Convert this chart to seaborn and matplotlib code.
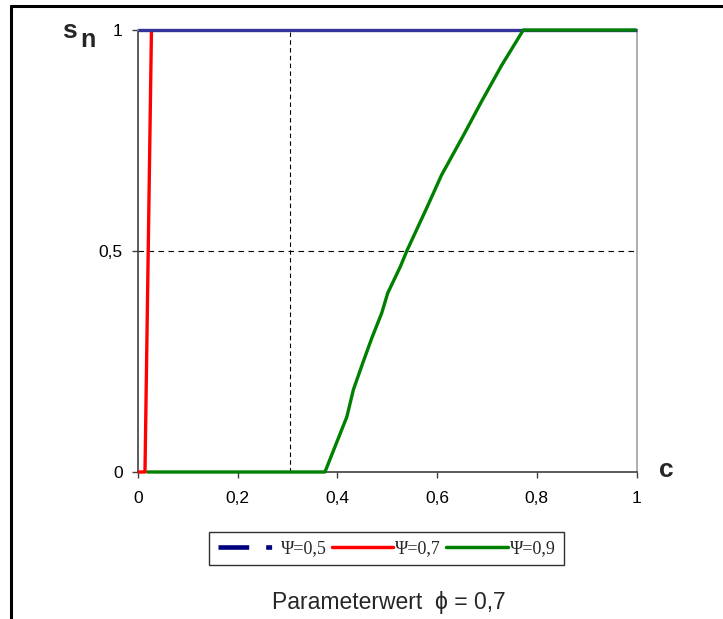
import seaborn as sns
import matplotlib.pyplot as plt
import pandas as pd
from matplotlib.lines import Line2D

# Werte
c_05 = [0.0, 1.0]
s_05 = [1.0, 1.0]
c_07 = [0.0, 0.014, 0.027]
s_07 = [0.0, 0.0, 1.0]
c_09 = [0.0175, 0.375, 0.419, 0.432, 0.451, 0.469, 0.489, 0.501, 0.526, 0.540,
        0.579, 0.609, 0.653, 0.689, 0.730, 0.773, 1.0]
s_09 = [0.0, 0.0, 0.125, 0.186, 0.247, 0.303, 0.360, 0.405, 0.464, 0.502,
        0.597, 0.672, 0.762, 0.838, 0.921, 1.0, 1.0]
labels = ["\u03a8=0,5", "\u03a8=0,7", "\u03a8=0,9"]
x_ticks = [0, 0.2, 0.4, 0.6, 0.8, 1.0]
x_ticklabels = ["0", "0,2", "0,4", "0,6", "0,8", "1"]
y_ticks = [0, 0.5, 1.0]
y_ticklabels = ["0", "0,5", "1"]
c_ref = 0.305

df = pd.concat([
    pd.DataFrame({"c": c_05, "s": s_05, "psi": labels[0]}),
    pd.DataFrame({"c": c_07, "s": s_07, "psi": labels[1]}),
    pd.DataFrame({"c": c_09, "s": s_09, "psi": labels[2]}),
], ignore_index=True)

sns.set_style("white")
plt.rcParams["font.family"] = ["Liberation Sans", "DejaVu Sans"]

fig = plt.figure(figsize=(7.23, 6.19), dpi=100)
ax = fig.add_axes([138 / 723, 1 - 472 / 619, 498.5 / 723, 442 / 619])

line_cols = {labels[0]: "#333399", labels[1]: "#ff0000", labels[2]: "#008000"}
sns.lineplot(data=df, x="c", y="s", hue="psi", palette=line_cols,
             estimator=None, sort=False, linewidth=2.4, legend=False, ax=ax)
for ln, z in zip(ax.lines, [3.2, 3.1, 3.3]):
    ln.set_clip_on(False)
    ln.set_solid_capstyle("butt")
    ln.set_zorder(z)

# Hilfslinien
ax.axhline(0.5, color="black", lw=0.8, ls=(0, (5, 4)), zorder=0.5)
ax.axvline(c_ref, color="black", lw=0.8, ls=(0, (4, 3)), zorder=0.5)

ax.set_xlim(0, 1)
ax.set_ylim(0, 1)
ax.set_xticks(x_ticks)
ax.set_xticklabels(x_ticklabels)
ax.set_yticks(y_ticks)
ax.set_yticklabels(y_ticklabels)
ax.tick_params(axis="both", direction="out", length=4, width=1, colors="#404040",
               labelcolor="black", labelsize=12.5)
ax.tick_params(axis="x", pad=10, bottom=True)
ax.tick_params(axis="y", pad=7, left=True)
ax.set_xlabel("")
ax.set_ylabel("")
for side in ["left", "bottom"]:
    ax.spines[side].set_color("#404040")
    ax.spines[side].set_linewidth(1.2)
for side in ["right", "top"]:
    ax.spines[side].set_color("#a0a0a0")
    ax.spines[side].set_linewidth(1.2)

# Achsenbeschriftungen
fig.text(62 / 723, 1 - 38 / 619, "s", fontsize=19, fontweight="bold", va="baseline")
fig.text(80 / 723, 1 - 47 / 619, "n", fontsize=18, fontweight="bold", va="baseline")
fig.text(659 / 723, 1 - 477 / 619, "c", fontsize=19, fontweight="bold", va="baseline")

# Legende
handles = [
    Line2D([], [], color="#000080", lw=3.3, ls=(0, (6.7, 3.7, 1.3, 10)),
           solid_capstyle="butt", dash_capstyle="butt"),
    Line2D([], [], color="#ff0000", lw=2.5),
    Line2D([], [], color="#008000", lw=2.5),
]
leg = fig.legend(handles, labels, loc="center", bbox_to_anchor=(386.5 / 723, 1 - 548.5 / 619),
                 ncol=3, fancybox=False, framealpha=1, edgecolor="#303030",
                 handlelength=3.4, handletextpad=0.1, columnspacing=0.3,
                 borderpad=0.45, prop={"family": "Liberation Serif", "size": 13})
leg.get_frame().set_linewidth(1.0)

fig.text(389 / 723, 1 - 609 / 619, "Parameterwert  \u03d5 = 0,7", fontsize=16.5,
         ha="center", va="baseline", family=["Liberation Sans", "DejaVu Sans"])

# Rahmen
fig.add_artist(Line2D([11 / 723, 11 / 723], [0, 1 - 6 / 619], color="black", lw=2.2,
                      transform=fig.transFigure))
fig.add_artist(Line2D([11 / 723, 1], [1 - 6 / 619, 1 - 6 / 619], color="black", lw=2.2,
                      transform=fig.transFigure))

fig.savefig("out.png", dpi=100)
